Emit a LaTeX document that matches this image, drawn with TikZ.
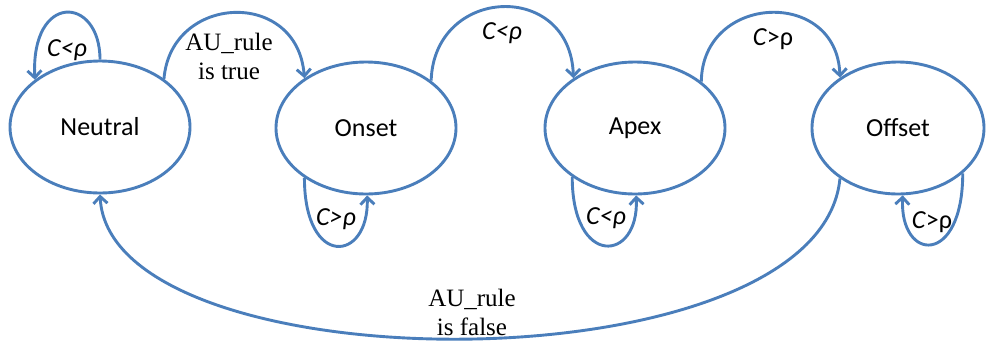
\documentclass[tikz,border=0pt]{standalone}
\usepackage{fontspec}
\setmainfont{Carlito}
\newfontfamily\serifx{Liberation Serif}
\usetikzlibrary{shapes.geometric,arrows.meta}
\definecolor{lineblue}{HTML}{4A7EBB}
\tikzset{
  state/.style={ellipse, draw=lineblue, line width=2.9pt, minimum width=180pt, minimum height=132pt, inner sep=0pt, font=\fontsize{26}{30}\selectfont},
  conn/.style={draw=lineblue, line width=2.9pt, -{Straight Barb[length=7pt,width=14pt]}},
  cond/.style={font=\fontsize{26}{30}\selectfont, inner sep=0pt},
  rule/.style={font=\serifx\fontsize{25}{29}\selectfont, align=center, inner sep=0pt}
}
\begin{document}
\begin{tikzpicture}[x=1pt,y=-1pt]
\useasboundingbox (0,0) rectangle (986,341);
\node[state] (N) at (100,127) {Neutral};
\node[state] (O) at (366,128) {Onset};
\node[state] (A) at (635,128) {Apex};
\node[state, minimum width=172pt] (F) at (898,128) {Offset};
% self loops
\draw[conn] (N.90) .. controls +(0,-64) and +(-4,-88) .. (N.144);
\draw[conn] (O.219) .. controls +(0,91) and +(2,67) .. (O.271);
\draw[conn] (A.218) .. controls +(0,91) and +(3,67) .. (A.271);
\draw[conn] (F.325) .. controls +(0,93) and +(-3,67) .. (F.274);
% forward transitions
\draw[conn] (N.37) .. controls +(7,-85) and +(-7,-90) .. (O.141);
\draw[conn] (O.36) .. controls +(3,-95) and +(-3,-98) .. (A.141);
\draw[conn] (A.35) .. controls +(1,-88) and +(-3,-90) .. (F.139);
% return
\draw[conn] (F.221) .. controls +(-20,212) and +(10,194) .. (N.270);
% labels
\node[cond] (l1) at (67,50) {\textit{C<ρ}};
\node[rule] (l2) at (229,56) {AU\_rule\\is true};
\node[cond] (l3) at (502,33) {\textit{C<ρ}};
\node[cond] (l4) at (773,39) {\textit{C}>ρ};
\node[cond] (l5) at (336,219) {\textit{C>ρ}};
\node[cond] (l6) at (606,218) {\textit{C<ρ}};
\node[cond] (l7) at (932,222) {\textit{C}>ρ};
\node[rule] (l8) at (472,312) {AU\_rule\\is false};
\end{tikzpicture}
\end{document}
